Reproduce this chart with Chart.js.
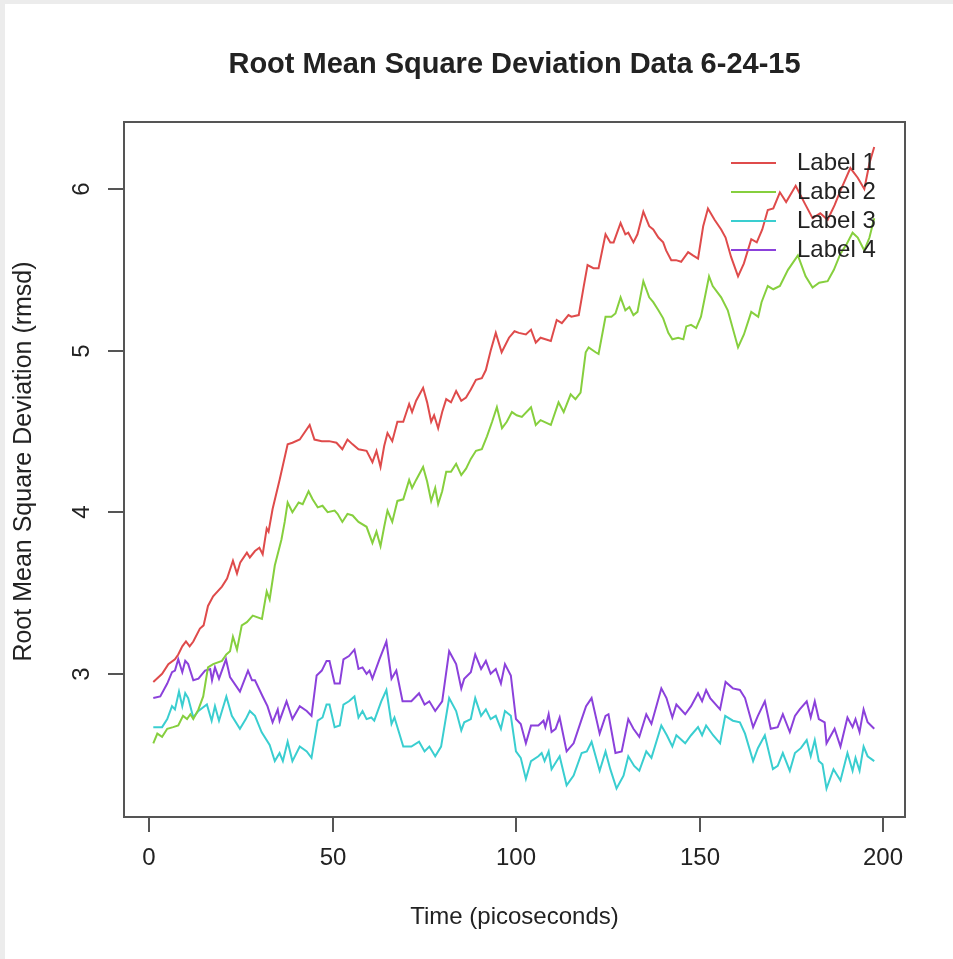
<!DOCTYPE html>
<html>
<head>
<meta charset="utf-8">
<title>Root Mean Square Deviation Data 6-24-15</title>
<script src="https://cdn.jsdelivr.net/npm/chart.js@4"></script>
<style>
  html, body { margin: 0; padding: 0; background: #ececec; }
  #wrap { position: absolute; left: 5px; top: 4px; width: 948px; height: 955px; background: #fff; }
</style>
</head>
<body>
<div id="wrap"><canvas id="rmsdCanvas" width="948" height="955"></canvas></div>
<script>
// ---- data ----
const xTicks = [0, 50, 100, 150, 200];
const yTicks = [3, 4, 5, 6];
const seriesLabels = ['Label 1', 'Label 2', 'Label 3', 'Label 4'];

const label1Time = [1.1,3.5,5.2,7,7.9,9,10,11,12,13.8,14.8,16,17.4,19.8,21.2,22.8,23.9,24.8,26.6,27.4,28.8,30,30.9,32,32.5,33.6,35.5,37.7,39,41,43.7,45,47,49,51,52.6,54,55.4,57,59.2,60.8,61.9,63,64,64.9,66.2,67.6,69.2,70.8,71.6,72.7,74.6,75.7,76.8,77.6,78.7,79.8,80.9,82.2,83.6,85,86.3,87.6,89,90.6,91.7,93,94.4,96,98,99.5,100.7,102.6,104,105.3,106.6,109.4,111,112.4,114.2,115,117,118.3,119.4,121,122.4,124.3,125.6,126.5,128.4,129.7,130.5,131.9,133,134.6,136.2,137.3,138.7,140,140.8,142.2,143.5,144.9,146.8,148.1,149.5,150.9,152.2,154,155.8,157,158.5,160.4,162,164,165.5,167,168.5,170,171.8,173.5,176.1,178.6,180.7,182.8,184.8,186.7,188.3,191,193,194.8,196.2,197.5];
const label1Rmsd = [2.95,3.00,3.06,3.09,3.12,3.17,3.20,3.17,3.20,3.28,3.30,3.42,3.48,3.54,3.59,3.70,3.62,3.69,3.75,3.72,3.76,3.78,3.74,3.90,3.88,4.02,4.20,4.42,4.43,4.45,4.54,4.45,4.44,4.44,4.43,4.39,4.45,4.42,4.39,4.38,4.31,4.38,4.28,4.41,4.49,4.44,4.56,4.56,4.67,4.62,4.69,4.77,4.68,4.56,4.60,4.52,4.62,4.70,4.68,4.75,4.69,4.71,4.76,4.82,4.83,4.88,5.00,5.11,4.99,5.08,5.12,5.11,5.10,5.13,5.05,5.08,5.06,5.19,5.17,5.22,5.21,5.22,5.39,5.53,5.51,5.51,5.72,5.67,5.67,5.79,5.72,5.73,5.67,5.72,5.86,5.77,5.75,5.70,5.67,5.62,5.56,5.56,5.55,5.61,5.59,5.57,5.77,5.88,5.81,5.75,5.70,5.58,5.46,5.54,5.69,5.67,5.75,5.87,5.88,5.98,5.92,6.02,5.91,5.82,5.85,5.81,5.90,5.99,6.13,6.07,6.00,6.16,6.26];

const label2Time = [1.1,2.2,3.5,4.9,6.5,7.9,9.2,10.3,11.2,12,13.4,14.7,16,17.4,19.8,21,22,22.8,23.9,25.2,26.6,28.2,30.7,32,32.8,34.2,36,36.9,37.7,39,40.7,41.8,43.4,44.5,45.9,47.2,48.6,50.5,51.3,52.6,54,55.4,57,59.2,60.8,61.9,63,64,64.9,66.2,67.6,69.2,70.8,71.6,72.7,74.6,75.7,76.8,77.9,78.7,79.8,80.9,82.2,83.6,85,86.3,87.6,89,90.6,92,93.4,94.7,96.1,97.4,98.8,100.1,101.5,104,105.3,106.6,109.4,111.5,112.9,114.8,116.1,117.5,118.9,119.7,121.6,122.4,124.3,125.9,127,128.4,129.7,130.8,131.9,133,134.6,136.2,137.3,138.7,140,141.4,142.5,144.1,145.5,146.3,147.6,149,150.3,152.5,153.5,155.8,157.6,160.4,162,164,165.9,166.8,168.5,170,171.8,174,176.7,178.8,180.7,182.5,184.8,186.5,188.3,190,191.6,193,194.8,196.2,197.5];
const label2Rmsd = [2.57,2.63,2.61,2.66,2.67,2.68,2.74,2.72,2.75,2.72,2.78,2.86,3.04,3.06,3.08,3.12,3.14,3.23,3.15,3.30,3.32,3.36,3.34,3.51,3.46,3.67,3.83,3.94,4.06,4.00,4.06,4.05,4.13,4.08,4.03,4.04,4.00,4.01,3.99,3.94,3.99,3.98,3.94,3.91,3.81,3.88,3.79,3.91,4.01,3.94,4.07,4.08,4.20,4.15,4.20,4.28,4.19,4.07,4.15,4.05,4.13,4.25,4.25,4.30,4.23,4.27,4.33,4.38,4.39,4.47,4.56,4.65,4.52,4.56,4.62,4.60,4.59,4.65,4.54,4.57,4.54,4.68,4.62,4.73,4.70,4.74,4.99,5.02,4.99,4.98,5.21,5.21,5.23,5.33,5.25,5.27,5.22,5.24,5.43,5.33,5.30,5.25,5.20,5.11,5.07,5.08,5.07,5.15,5.16,5.14,5.21,5.46,5.40,5.33,5.25,5.02,5.10,5.24,5.21,5.30,5.40,5.38,5.40,5.50,5.59,5.46,5.39,5.42,5.43,5.50,5.60,5.66,5.73,5.70,5.62,5.70,5.82];

const label3Time = [1.1,3.5,4.9,6.2,7,8.1,9,9.8,10.6,12,13.4,15.7,17,17.9,19,21,22.5,24.7,26.3,27.4,28.8,30.6,32.8,34.2,35.5,36.4,37.7,39,41,42.9,44.2,45.9,47.2,48.3,49.1,50.5,51.9,52.9,54.4,55.9,57,58.1,59.2,60.5,61.3,63.2,64.6,66,66.8,69.2,71.4,73.5,75,76.3,77.9,79.5,81.7,83.6,85,85.8,87.6,88.8,90.4,91.7,93,94.4,95.8,96.9,98.5,99.9,101.2,102.6,104,106,106.9,107.7,108.8,109.6,111.8,113.7,115.6,117.8,119.2,120.5,122.7,124.3,125.6,127.3,129.2,130.5,132.1,133.5,135.4,136.8,139.5,141,142.5,143.6,146,147.6,149.5,150.6,151.7,153.6,155.5,156.9,159,160.9,162.3,164.5,165.8,167.7,169.9,171.2,172.6,174.5,175.9,177.5,179.1,180.2,181.3,182.4,183.4,184.5,186.4,188.3,190.2,191.6,192.4,193.5,194.6,195.7,197.5];
const label3Rmsd = [2.67,2.67,2.72,2.80,2.78,2.89,2.80,2.88,2.85,2.73,2.77,2.81,2.71,2.80,2.71,2.86,2.74,2.66,2.72,2.77,2.74,2.64,2.56,2.46,2.51,2.46,2.58,2.46,2.55,2.52,2.48,2.71,2.73,2.81,2.81,2.67,2.68,2.81,2.83,2.86,2.73,2.77,2.72,2.73,2.71,2.83,2.90,2.69,2.73,2.55,2.55,2.58,2.52,2.55,2.49,2.55,2.85,2.77,2.65,2.70,2.72,2.85,2.74,2.78,2.72,2.74,2.66,2.77,2.74,2.52,2.48,2.35,2.46,2.49,2.51,2.46,2.52,2.41,2.49,2.31,2.37,2.51,2.52,2.58,2.40,2.52,2.41,2.29,2.37,2.49,2.43,2.40,2.52,2.48,2.68,2.62,2.55,2.62,2.57,2.62,2.67,2.62,2.68,2.62,2.57,2.74,2.71,2.70,2.63,2.46,2.54,2.62,2.41,2.43,2.51,2.40,2.51,2.54,2.59,2.49,2.59,2.46,2.44,2.29,2.41,2.34,2.51,2.40,2.48,2.40,2.55,2.49,2.46];

const label4Time = [1.1,3,4.9,6.2,7,7.9,9,9.8,10.6,12,13.4,15.2,16.6,17.1,17.9,19,20.9,22,24.7,26.9,28,28.8,30.9,32.2,33.6,35,35.5,37.4,39,41,42.9,44.2,45.6,47,48.3,49.1,50.5,51.9,52.9,54.4,55.9,57,58.1,59.2,60,60.8,62.7,64.6,66,67.3,69,71.4,73.5,75,76.3,77.9,79.8,81.7,83.6,85,85.8,87.6,88.8,90.4,91.7,93,94.4,95.8,96.9,98.5,99.9,101.2,102.6,104,106,107.4,107.9,108.8,109.6,110.7,111.8,113.7,115.6,117.8,119,120.5,122.7,124.3,125.1,127,128.7,130.5,131.9,133.5,135.4,136.8,139.5,140.9,142.5,143.6,146,147.6,149.5,150.6,151.7,152.8,155.5,157,159,160.9,162.3,164.5,165.8,167.7,169.3,171.2,172.6,174.5,175.9,177.2,179.1,180.2,181.3,182.4,184,184.5,186.7,188.3,190.2,191.6,192.4,193.5,194.6,195.7,197.5];
const label4Rmsd = [2.85,2.86,2.94,3.01,3.02,3.09,3.01,3.08,3.06,2.96,2.97,3.02,3.03,2.96,3.04,2.97,3.09,2.98,2.89,3.02,2.96,2.96,2.86,2.80,2.70,2.78,2.71,2.83,2.72,2.80,2.77,2.74,2.99,3.02,3.08,3.08,2.94,2.94,3.09,3.11,3.15,3.03,3.04,3.00,3.02,2.97,3.09,3.20,2.97,3.02,2.83,2.83,2.88,2.81,2.83,2.77,2.83,3.14,3.06,2.91,2.97,3.01,3.12,3.03,3.08,3.00,3.03,2.94,3.06,2.99,2.72,2.69,2.57,2.68,2.68,2.71,2.67,2.75,2.64,2.66,2.73,2.52,2.57,2.72,2.80,2.85,2.63,2.74,2.75,2.51,2.52,2.72,2.66,2.61,2.75,2.69,2.91,2.85,2.73,2.81,2.75,2.80,2.88,2.83,2.90,2.85,2.78,2.95,2.91,2.90,2.85,2.67,2.74,2.83,2.66,2.67,2.75,2.64,2.74,2.78,2.83,2.73,2.83,2.72,2.70,2.57,2.66,2.55,2.73,2.67,2.72,2.64,2.78,2.70,2.66];

const seriesColors = ['#DF4B4B', '#86CF3E', '#3ACED0', '#8B41DB'];

(function() {
  'use strict';

  const canvas = document.getElementById('rmsdCanvas');
  const FONT = '"Liberation Sans", Arial, sans-serif';
  const INK = '#222';

  function toPoints(times, values) {
    return times.map(function(t, i) { return { x: t, y: values[i] }; });
  }

  const pairs = [
    [label1Time, label1Rmsd],
    [label2Time, label2Rmsd],
    [label3Time, label3Rmsd],
    [label4Time, label4Rmsd]
  ];

  const datasets = pairs.map(function(p, i) {
    return {
      label: seriesLabels[i],
      data: toPoints(p[0], p[1]),
      borderColor: seriesColors[i],
      borderWidth: 2,
      pointRadius: 0,
      tension: 0,
      fill: false
    };
  });

  // R-style box, ticks, labels and legend drawn on top of the series
  const rFrame = {
    id: 'rFrame',
    afterDatasetsDraw(chart) {
      const ctx = chart.ctx;
      const a = chart.chartArea;
      const xs = chart.scales.x;
      const ys = chart.scales.y;
      ctx.save();

      ctx.strokeStyle = '#555';
      ctx.lineWidth = 2;
      ctx.strokeRect(a.left, a.top, a.right - a.left, a.bottom - a.top);

      ctx.fillStyle = INK;
      ctx.font = '24px ' + FONT;

      // x ticks
      ctx.textAlign = 'center';
      ctx.textBaseline = 'middle';
      xTicks.forEach(function(v) {
        const px = Math.round(xs.getPixelForValue(v));
        ctx.beginPath();
        ctx.moveTo(px, a.bottom);
        ctx.lineTo(px, a.bottom + 15);
        ctx.stroke();
        ctx.fillText(String(v), px, a.bottom + 41);
      });

      // y ticks (rotated like R)
      yTicks.forEach(function(v) {
        const py = Math.round(ys.getPixelForValue(v));
        ctx.beginPath();
        ctx.moveTo(a.left, py);
        ctx.lineTo(a.left - 16, py);
        ctx.stroke();
        ctx.save();
        ctx.translate(a.left - 42, py);
        ctx.rotate(-Math.PI / 2);
        ctx.fillText(String(v), 0, 0);
        ctx.restore();
      });

      // axis titles
      const cx = (a.left + a.right) / 2;
      const cy = (a.top + a.bottom) / 2;
      ctx.fillText('Time (picoseconds)', cx, a.bottom + 100);
      ctx.save();
      ctx.font = '25px ' + FONT;
      ctx.translate(19, cy - 8);
      ctx.rotate(-Math.PI / 2);
      ctx.fillText('Root Mean Square Deviation (rmsd)', 0, 0);
      ctx.restore();

      // main title
      ctx.font = 'bold 29px ' + FONT;
      ctx.fillText('Root Mean Square Deviation Data 6-24-15', cx, 61);

      // legend (no box, like bty = "n")
      ctx.font = '24px ' + FONT;
      ctx.textAlign = 'left';
      seriesLabels.forEach(function(lab, i) {
        const ly = 159 + i * 29;
        ctx.strokeStyle = seriesColors[i];
        ctx.lineWidth = 2;
        ctx.beginPath();
        ctx.moveTo(726, ly);
        ctx.lineTo(771, ly);
        ctx.stroke();
        ctx.fillStyle = INK;
        ctx.fillText(lab, 792, ly);
      });

      ctx.restore();
    }
  };

  new Chart(canvas, {
    type: 'line',
    data: { datasets: datasets },
    options: {
      responsive: false,
      animation: false,
      events: [],
      layout: { padding: { left: 119, top: 118, right: 48, bottom: 142 } },
      plugins: {
        legend: { display: false },
        title: { display: false },
        tooltip: { enabled: false }
      },
      scales: {
        x: { type: 'linear', display: false, min: -6.88, max: 205.88 },
        y: { type: 'linear', display: false, min: 2.114, max: 6.415 }
      }
    },
    plugins: [rFrame]
  });
})();
</script>
</body>
</html>
